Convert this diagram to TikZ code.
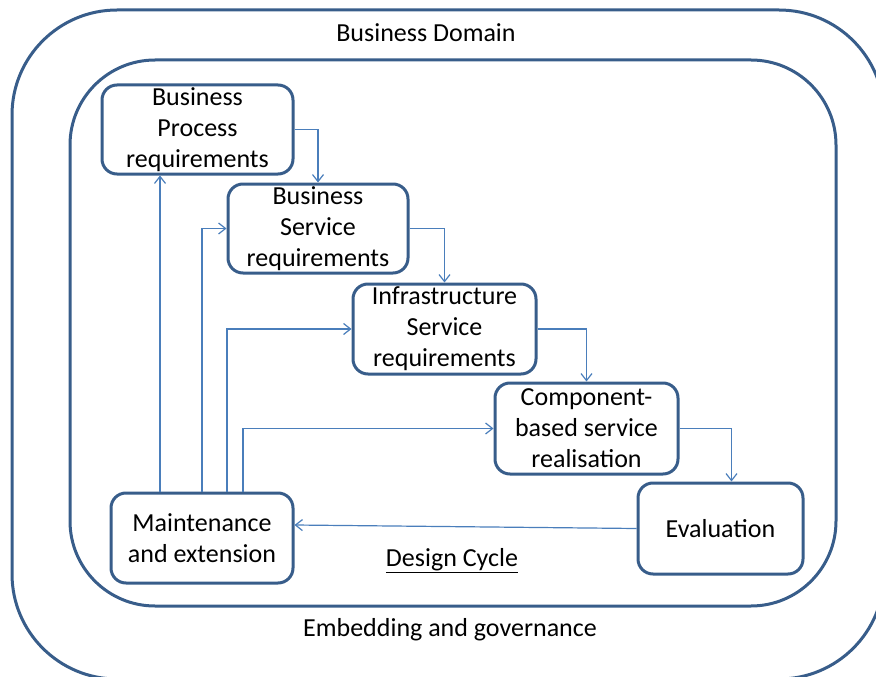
\documentclass[tikz,border=0pt]{standalone}
\usepackage{fontspec}
\setmainfont{Carlito}
\usetikzlibrary{arrows.meta}
\definecolor{boxline}{RGB}{56,93,138}
\definecolor{linkline}{RGB}{74,126,187}

\begin{document}
\begin{tikzpicture}[x=1pt,y=-1pt,
    phase/.style={draw=boxline, line width=3pt, rounded corners=15pt, align=center,
        inner sep=0pt, font=\fontsize{26}{31}\selectfont},
    link/.style={draw=linkline, line width=1.2pt, -{Straight Barb[length=7pt,width=11pt]}},
    areatext/.style={font=\fontsize{26}{31}\selectfont}]
  \useasboundingbox (0,0) rectangle (876,677);
  \clip (0,0) rectangle (876,677);
  \draw[boxline, line width=3pt, rounded corners=105pt] (12,10) rectangle (884,679);
  \draw[boxline, line width=3pt, rounded corners=85pt] (70,60) rectangle (836,606);
  \node[areatext] (domain) at (426,33) {Business Domain};
  \node[areatext] (embed) at (450,630) {Embedding and governance};
  \node[areatext] (cycle) at (452,561) {\underline{Design Cycle}};

  \node[phase, minimum width=191pt, minimum height=89pt] (bpr) at (197.5,129.5) {Business\\Process\\requirements};
  \node[phase, minimum width=180pt, minimum height=89pt] (bsr) at (318,228.5) {Business\\Service\\requirements};
  \node[phase, minimum width=183pt, minimum height=90pt] (isr) at (444.5,329) {Infrastructure\\Service\\requirements};
  \node[phase, minimum width=183pt, minimum height=91pt] (cbsr) at (586.5,428.5) {Component-\\based service\\realisation};
  \node[phase, minimum width=165pt, minimum height=91pt] (eval) at (720.5,528.5) {Evaluation};
  \node[phase, minimum width=182pt, minimum height=90pt] (maint) at (202,538) {Maintenance\\and extension};

  \draw[link] (bpr.east) -| (bsr.north);
  \draw[link] (bsr.east) -| (isr.north);
  \draw[link] (isr.east) -| (cbsr.north);
  \draw[link] (cbsr.east) -| ([xshift=11pt]eval.north);
  \draw[link] (eval.west) -- ([yshift=13pt]maint.east);
  \draw[link] ([xshift=-42pt]maint.north) -- ([xshift=-42pt]maint.north |- bpr.south);
  \draw[link] (maint.north) |- (bsr.west);
  \draw[link] ([xshift=25pt]maint.north) |- (isr.west);
  \draw[link] ([xshift=41pt]maint.north) |- (cbsr.west);
\end{tikzpicture}
\end{document}
